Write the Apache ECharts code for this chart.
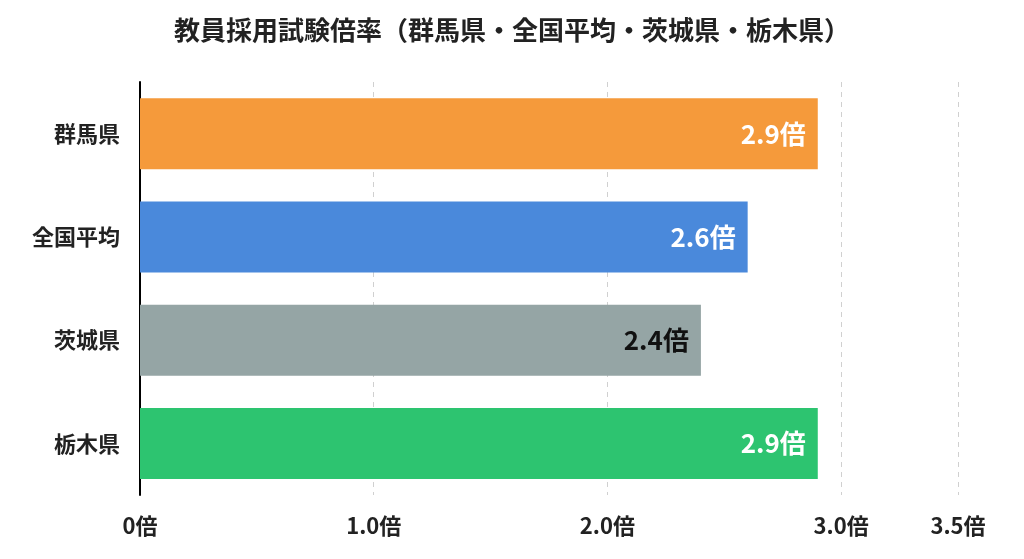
<!DOCTYPE html>
<html><head><meta charset="utf-8">
<script src="https://cdn.jsdelivr.net/npm/echarts@6/dist/echarts.min.js"></script>
<style>html,body{margin:0;background:#fff}#c{width:1024px;height:559px}</style>
</head><body><div id="c"></div>
<script>
const categories = ['群馬県','全国平均','茨城県','栃木県'];
const values = [2.9, 2.6, 2.4, 2.9];
const colors = ['#F59A3B','#4A89DB','#95A5A5','#2DC470'];
const labelColors = ['#fff','#fff','#111','#fff'];
const tickValues = [0, 1, 2, 3, 3.5];
const tickLabels = ['0倍','1.0倍','2.0倍','3.0倍','3.5倍'];
const chart = echarts.init(document.getElementById('c'));
const font = '"Noto Sans CJK JP", sans-serif';
chart.setOption({
  title:{text:'教員採用試験倍率（群馬県・全国平均・茨城県・栃木県）',left:'center',top:12,
    textStyle:{fontFamily:font,fontSize:26,fontWeight:'bold',color:'#222'}},
  grid:{left:140,right:66,top:82,bottom:64},
  xAxis:{type:'value',min:0,max:3.5,
    axisLine:{show:false},
    axisTick:{show:false,customValues:tickValues},
    splitLine:{show:true,lineStyle:{type:[5,5],color:'#d0d0d0'}},
    axisLabel:{customValues:tickValues,margin:20,fontFamily:font,fontSize:22,fontWeight:'bold',color:'#222',
      formatter:v=>tickLabels[tickValues.indexOf(v)]}},
  yAxis:{type:'category',data:categories,inverse:true,
    axisLine:{lineStyle:{color:'#000',width:2}},axisTick:{show:false},
    axisLabel:{margin:20,fontFamily:font,fontSize:22,fontWeight:'bold',color:'#222'}},
  series:[{type:'bar',barWidth:71,
    data:values.map((v,i)=>({value:v,itemStyle:{color:colors[i]},
      label:{color:labelColors[i]}})),
    label:{show:true,position:'insideRight',distance:12,fontFamily:font,fontSize:26,fontWeight:'bold',
      formatter:p=>p.value.toFixed(1)+'倍'}}]
});
</script></body></html>
